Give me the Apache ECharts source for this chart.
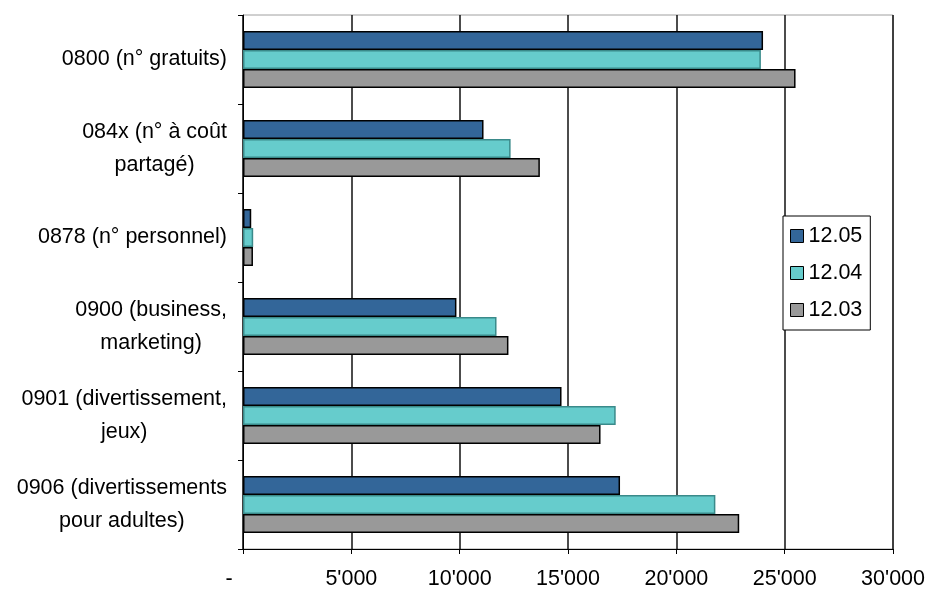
<!DOCTYPE html>
<html>
<head>
<meta charset="utf-8">
<script src="https://cdn.jsdelivr.net/npm/echarts@6/dist/echarts.min.js"></script>
<style>
  html, body { margin: 0; padding: 0; background: #fff; }
  #chart { width: 928px; height: 590px; }
</style>
</head>
<body>
<div id="chart"></div>
<script>
// Number categories (top to bottom) and yearly volumes per series
const categories = [
  '0800 (n° gratuits)',
  '084x (n° à coût\npartagé)',
  '0878 (n° personnel)',
  '0900 (business,\nmarketing)',
  '0901 (divertissement,\njeux)',
  '0906 (divertissements\npour adultes)'
];
const seriesNames = ['12.05', '12.04', '12.03'];
const values1205 = [24000, 11100, 380, 9850, 14700, 17400];
const values1204 = [23900, 12350, 470, 11700, 17200, 21800];
const values1203 = [25500, 13700, 460, 12250, 16500, 22900];

const FONT = '"Liberation Sans", Arial, sans-serif';
const FS = 21.5;

// Swiss-style thousands separator; zero shown as a dash
function fmtThousands(v) {
  if (v === 0) return '{z|-}';
  return String(v).replace(/\B(?=(\d{3})+(?!\d))/g, "'");
}

const fills = ['#336699', '#66cccc', '#999999'];
const borders = ['#000000', '#3a8a8a', '#000000'];
const seriesData = [values1205, values1204, values1203];

const chart = echarts.init(document.getElementById('chart'), null, { renderer: 'canvas' });

chart.setOption({
  animation: false,
  backgroundColor: '#ffffff',
  textStyle: { fontFamily: FONT },
  grid: {
    left: 243, right: 30, top: 15, bottom: 38,
    show: true, borderColor: '#a0a0a0', borderWidth: 1, backgroundColor: '#ffffff'
  },
  legend: {
    orient: 'vertical',
    left: 783, top: 216,
    data: seriesNames,
    icon: 'rect',
    itemWidth: 13, itemHeight: 13,
    itemGap: 13,
    itemTextGap: 6,
    padding: [8, 8, 8, 7],
    backgroundColor: '#ffffff',
    borderColor: '#000000', borderWidth: 1,
    textStyle: { fontFamily: FONT, fontSize: FS, lineHeight: 24, color: '#000' },
    itemStyle: { borderColor: '#000', borderWidth: 1 }
  },
  xAxis: {
    type: 'value',
    min: 0, max: 30000, interval: 5000,
    axisLine: { show: true, lineStyle: { color: '#000', width: 1 } },
    axisTick: { show: true, length: 5, lineStyle: { color: '#000' } },
    splitLine: { show: true, lineStyle: { color: '#111', width: 1.5 } },
    axisLabel: {
      margin: 19, fontSize: FS, color: '#000', fontFamily: FONT,
      formatter: fmtThousands,
      rich: { z: { fontSize: FS, fontFamily: FONT, color: '#000', padding: [0, 28, 0, 0] } }
    }
  },
  yAxis: {
    type: 'category',
    inverse: true,
    data: categories,
    axisLine: { show: true, lineStyle: { color: '#000', width: 1 } },
    axisTick: { show: true, length: 5, lineStyle: { color: '#000' } },
    axisLabel: {
      margin: 16, color: '#000', fontSize: FS, fontFamily: FONT, lineHeight: 33,
      formatter: function (v) {
        return v.split('\n').map(function (l) { return '{c|' + l + '}'; }).join('\n');
      },
      rich: { c: { align: 'center', fontSize: FS, fontFamily: FONT, color: '#000', lineHeight: 33 } }
    }
  },
  series: seriesNames.map(function (name, i) {
    return {
      name: name,
      type: 'bar',
      data: seriesData[i],
      barWidth: 19,
      barGap: '0%',
      itemStyle: { color: fills[i], borderColor: borders[i], borderWidth: 1.5 }
    };
  })
});
</script>
</body>
</html>
